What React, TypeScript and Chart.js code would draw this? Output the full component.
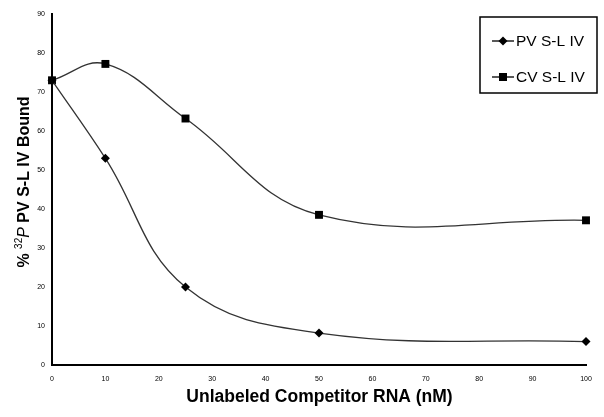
import React, { useEffect, useRef } from "react";
import { Chart, registerables } from "chart.js";

Chart.register(...registerables);

const concentrations = [0, 10, 25, 50, 100];
const pvValues = [73, 53, 20, 8.2, 6];
const cvValues = [73, 77.2, 63.2, 38.5, 37.1];
const seriesLabels = ["PV S-L IV", "CV S-L IV"];
const xTitle = "Unlabeled Competitor RNA (nM)";

const FONT = "Arial, 'Liberation Sans', sans-serif";

const decorPlugin = {
  id: "decor",
  afterDraw(chart: any) {
    const ctx = chart.ctx;
    const ca = chart.chartArea;
    ctx.save();
    ctx.fillStyle = "#000";
    // x title
    ctx.font = `bold 17.5px ${FONT}`;
    ctx.textAlign = "center";
    ctx.textBaseline = "middle";
    ctx.fillText(xTitle, (ca.left + ca.right) / 2 + 0.5, 397);
    // y title with superscript
    ctx.translate(25, 182);
    ctx.rotate(-Math.PI / 2);
    ctx.textAlign = "left";
    ctx.textBaseline = "middle";
    const parts = [
      { t: "% ", f: `bold 16px ${FONT}`, dy: 0 },
      { t: "32", f: `10px ${FONT}`, dy: -6 },
      { t: "P", f: `italic 16px ${FONT}`, dy: 0 },
      { t: " PV S-L IV Bound", f: `bold 16px ${FONT}`, dy: 0 },
    ];
    let total = 0;
    parts.forEach((p) => {
      ctx.font = p.f;
      total += ctx.measureText(p.t).width;
    });
    let x = -total / 2;
    parts.forEach((p) => {
      ctx.font = p.f;
      ctx.fillText(p.t, x, p.dy);
      x += ctx.measureText(p.t).width;
    });
    ctx.restore();

    // legend box
    ctx.save();
    const bx = 480, by = 17, bw = 117, bh = 76;
    ctx.fillStyle = "#fff";
    ctx.fillRect(bx, by, bw, bh);
    ctx.strokeStyle = "#000";
    ctx.lineWidth = 1.5;
    ctx.strokeRect(bx, by, bw, bh);
    const styles = ["rectRot", "rect"];
    chart.data.datasets.forEach((ds: any, i: number) => {
      const yy = by + 24 + i * 36;
      ctx.strokeStyle = "#222";
      ctx.lineWidth = 1.5;
      ctx.beginPath();
      ctx.moveTo(492, yy);
      ctx.lineTo(514, yy);
      ctx.stroke();
      ctx.fillStyle = "#000";
      ctx.beginPath();
      if (styles[i] === "rect") {
        ctx.rect(503 - 4, yy - 4, 8, 8);
      } else {
        ctx.moveTo(503, yy - 4.5);
        ctx.lineTo(507.5, yy);
        ctx.lineTo(503, yy + 4.5);
        ctx.lineTo(498.5, yy);
        ctx.closePath();
      }
      ctx.fill();
      ctx.font = `15.5px ${FONT}`;
      ctx.textAlign = "left";
      ctx.textBaseline = "middle";
      ctx.fillText(ds.label, 516, yy + 1);
    });
    ctx.restore();
  },
};

export default function App() {
  const ref = useRef<HTMLCanvasElement>(null);
  useEffect(() => {
    document.body.style.margin = "0";
    const mk = (vals: number[]) => concentrations.map((c, i) => ({ x: c, y: vals[i] }));
    const common = {
      showLine: true,
      tension: 0.4,
      borderColor: "#333",
      borderWidth: 1.3,
      pointBackgroundColor: "#000",
      pointBorderColor: "#000",
      pointBorderWidth: 0,
      clip: false as any,
    };
    const chart = new Chart(ref.current!, {
      type: "scatter",
      data: {
        datasets: [
          { ...common, label: seriesLabels[0], data: mk(pvValues), pointStyle: "rectRot", pointRadius: 4.5 },
          { ...common, label: seriesLabels[1], data: mk(cvValues), pointStyle: "rect", pointRadius: 5.6 },
        ],
      },
      options: {
        animation: false,
        responsive: false,
        layout: { padding: { top: 14, right: 18, left: 0, bottom: 0 } },
        plugins: { legend: { display: false }, tooltip: { enabled: false } },
        scales: {
          x: {
            type: "linear",
            min: 0,
            max: 100,
            afterFit: (s: any) => { s.height = 52; },
            grid: { display: false, drawTicks: true, tickLength: 4, tickColor: "#000", drawOnChartArea: false },
            border: { color: "#000", width: 2 },
            ticks: { stepSize: 10, color: "#000", font: { size: 7, family: FONT }, padding: 6, maxRotation: 0 },
          },
          y: {
            min: 0,
            max: 90,
            afterFit: (s: any) => { s.width = 52; },
            grid: { display: false, drawTicks: true, tickLength: 4, tickColor: "#000", drawOnChartArea: false },
            border: { color: "#000", width: 2 },
            ticks: { stepSize: 10, color: "#000", font: { size: 7, family: FONT }, padding: 3 },
          },
        },
      },
      plugins: [decorPlugin],
    });
    return () => chart.destroy();
  }, []);
  return <canvas ref={ref} width={604} height={417} style={{ display: "block", background: "#fff" }} />;
}
